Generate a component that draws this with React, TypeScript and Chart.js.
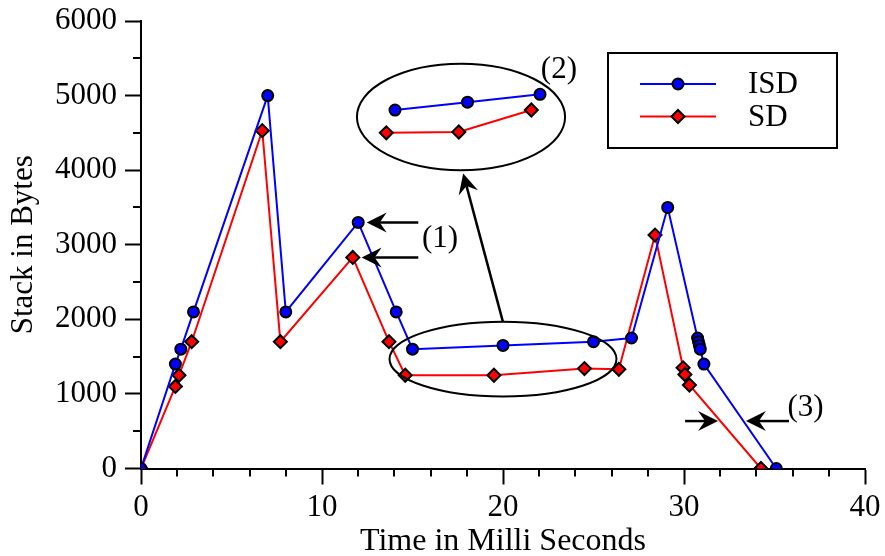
import React, { useEffect, useRef } from 'react';
import { Chart, registerables } from 'chart.js';

Chart.register(...registerables);

// ---- data ----
const isdTime = [0, 1.9, 2.2, 2.9, 7, 8, 12, 14.1, 15, 20, 25, 27.1, 29.1, 30.75, 30.8, 30.85, 30.9, 31.1, 35.1];
const isdBytes = [0, 1400, 1600, 2100, 5000, 2100, 3300, 2100, 1600, 1650, 1700, 1750, 3500, 1750, 1700, 1650, 1600, 1400, 0];
const sdTime = [0, 1.9, 2.1, 2.8, 6.7, 7.7, 11.7, 13.7, 14.6, 19.5, 24.5, 26.4, 28.4, 29.95, 30.05, 30.3, 34.25];
const sdBytes = [0, 1100, 1250, 1700, 4530, 1700, 2830, 1700, 1250, 1250, 1340, 1330, 3130, 1350, 1260, 1120, 0];

// magnified inset (2)
const insetIsdTime = [15, 20, 25];
const insetIsdBytes = [1600, 1650, 1700];
const insetSdTime = [14.4, 19.4, 24.4];
const insetSdBytes = [1455, 1460, 1600];

const xMajorTicks = [0, 10, 20, 30, 40];
const yMajorTicks = [0, 1000, 2000, 3000, 4000, 5000, 6000];
const xMinorTicks = [2, 4, 6, 8, 12, 14, 16, 18, 22, 24, 26, 28, 32, 34, 36, 38];
const yMinorTicks = [500, 1500, 2500, 3500, 4500, 5500];

const seriesNames = ['ISD', 'SD'];
const xTitle = 'Time in Milli Seconds';
const yTitle = 'Stack in Bytes';

// annotations in data units
const ellipseCx = [20.0, 17.68];
const ellipseCy = [1467, 4714];
const ellipseRx = [6.27, 5.75];
const ellipseRy = [502, 714];

const arrowFromX = [15.32, 15.32, 20.0, 30.06, 35.8];
const arrowFromY = [3300, 2830, 1963, 636, 636];
const arrowToX = [12.47, 12.19, 17.8, 31.88, 33.42];
const arrowToY = [3300, 2830, 3955, 636, 636];

const labelText = ['(1)', '(2)', '(3)'];
const labelX = [16.52, 23.09, 36.71];
const labelY = [3075, 5340, 817];

const FONT = '"Liberation Serif", "Times New Roman", serif';
const FS = 31;

function drawArrowHead(ctx: CanvasRenderingContext2D, x: number, y: number, ang: number) {
  const L = 20, W = 10, N = 13;
  ctx.save();
  ctx.translate(x, y);
  ctx.rotate(ang);
  ctx.beginPath();
  ctx.moveTo(0, 0);
  ctx.lineTo(-L, -W);
  ctx.lineTo(-N, 0);
  ctx.lineTo(-L, W);
  ctx.closePath();
  ctx.fillStyle = '#000';
  ctx.fill();
  ctx.restore();
}

const annotPlugin = {
  id: 'annot',
  afterDraw(chart: any) {
    const ctx: CanvasRenderingContext2D = chart.ctx;
    const xs = chart.scales.x;
    const ys = chart.scales.y;
    const ca = chart.chartArea;
    ctx.save();
    ctx.strokeStyle = '#000';
    ctx.lineWidth = 2;
    // minor ticks
    ctx.beginPath();
    xMinorTicks.forEach((v) => {
      const px = Math.round(xs.getPixelForValue(v));
      ctx.moveTo(px, ca.bottom);
      ctx.lineTo(px, ca.bottom + 8);
    });
    yMinorTicks.forEach((v) => {
      const py = Math.round(ys.getPixelForValue(v));
      ctx.moveTo(ca.left, py);
      ctx.lineTo(ca.left - 8, py);
    });
    ctx.stroke();

    // ellipses
    ellipseCx.forEach((cx, i) => {
      const px = xs.getPixelForValue(cx);
      const py = ys.getPixelForValue(ellipseCy[i]);
      const rx = Math.abs(xs.getPixelForValue(cx + ellipseRx[i]) - px);
      const ry = Math.abs(ys.getPixelForValue(ellipseCy[i] + ellipseRy[i]) - py);
      ctx.beginPath();
      ctx.ellipse(px, py, rx, ry, 0, 0, Math.PI * 2);
      ctx.stroke();
    });

    // arrows
    ctx.lineWidth = 2.5;
    arrowFromX.forEach((fx, i) => {
      const x1 = xs.getPixelForValue(fx);
      const y1 = ys.getPixelForValue(arrowFromY[i]);
      const x2 = xs.getPixelForValue(arrowToX[i]);
      const y2 = ys.getPixelForValue(arrowToY[i]);
      const ang = Math.atan2(y2 - y1, x2 - x1);
      ctx.beginPath();
      ctx.moveTo(x1, y1);
      ctx.lineTo(x2 - Math.cos(ang) * 13, y2 - Math.sin(ang) * 13);
      ctx.stroke();
      drawArrowHead(ctx, x2, y2, ang);
    });

    // labels
    ctx.fillStyle = '#000';
    ctx.font = `${FS}px ${FONT}`;
    ctx.textAlign = 'center';
    ctx.textBaseline = 'middle';
    labelText.forEach((t, i) => {
      ctx.fillText(t, xs.getPixelForValue(labelX[i]), ys.getPixelForValue(labelY[i]));
    });

    // legend
    const lx = ca.right - 257;
    const ly = ca.top + 32;
    ctx.lineWidth = 2;
    ctx.strokeRect(lx, ly, 229, 95);
    const rows = [ly + 31, ly + 63.5];
    chart.data.datasets.slice(0, 2).forEach((ds: any, i: number) => {
      const y = rows[i];
      ctx.strokeStyle = ds.borderColor;
      ctx.lineWidth = 2;
      ctx.beginPath();
      ctx.moveTo(lx + 32, y);
      ctx.lineTo(lx + 108, y);
      ctx.stroke();
      const mx = lx + 70;
      ctx.fillStyle = ds.pointBackgroundColor;
      ctx.strokeStyle = '#000';
      ctx.beginPath();
      if (ds.pointStyle === 'circle') {
        ctx.arc(mx, y, ds.pointRadius, 0, Math.PI * 2);
      } else {
        const r = ds.pointRadius;
        ctx.moveTo(mx - r, y);
        ctx.lineTo(mx, y - r);
        ctx.lineTo(mx + r, y);
        ctx.lineTo(mx, y + r);
        ctx.closePath();
      }
      ctx.fill();
      ctx.stroke();
      ctx.fillStyle = '#000';
      ctx.textAlign = 'left';
      ctx.fillText(seriesNames[i], lx + 140, y + 1);
    });
    ctx.restore();
  },
};

const pts = (xs: number[], ys: number[]) => xs.map((x, i) => ({ x, y: ys[i] }));

export default function App() {
  const ref = useRef<HTMLCanvasElement | null>(null);
  useEffect(() => {
    document.body.style.margin = '0';
    const canvas = ref.current!;
    const font = { family: FONT, size: FS };
    const isdStyle = {
      borderColor: '#0000ff',
      pointBackgroundColor: '#0000ff',
      pointBorderColor: '#000000',
      pointBorderWidth: 2,
      pointStyle: 'circle',
      pointRadius: 5.5,
      borderWidth: 2,
    };
    const sdStyle = {
      borderColor: '#ff0000',
      pointBackgroundColor: '#ff0000',
      pointBorderColor: '#000000',
      pointBorderWidth: 2,
      pointStyle: 'rectRot',
      pointRadius: 6.5,
      borderWidth: 2,
    };
    const chart = new Chart(canvas, {
      type: 'line',
      data: {
        datasets: [
          { label: seriesNames[0], data: pts(isdTime, isdBytes), ...isdStyle, clip: 0, tension: 0 } as any,
          { label: seriesNames[1], data: pts(sdTime, sdBytes), ...sdStyle, clip: 0, tension: 0 } as any,
          { label: 'inset ISD', data: pts(insetIsdTime, insetIsdBytes), ...isdStyle, xAxisID: 'xi', yAxisID: 'yi' } as any,
          { label: 'inset SD', data: pts(insetSdTime, insetSdBytes), ...sdStyle, xAxisID: 'xi', yAxisID: 'yi' } as any,
        ],
      },
      options: {
        animation: false,
        responsive: false,
        devicePixelRatio: 1,
        layout: { padding: { top: 21, right: 20, left: 0, bottom: 0 } },
        plugins: { legend: { display: false }, tooltip: { enabled: false } },
        scales: {
          x: {
            type: 'linear',
            position: 'bottom',
            min: 0,
            max: 40,
            afterBuildTicks: (s: any) => { s.ticks = xMajorTicks.map((v) => ({ value: v })); },
            afterFit: (s: any) => { s.height = 87.5; s.paddingLeft = 0; s.paddingRight = 0; },
            ticks: { font, color: '#000', padding: 5, maxRotation: 0, autoSkip: false, callback: (v: any) => String(v) },
            grid: { drawOnChartArea: false, drawTicks: true, tickLength: 16, tickColor: '#000', tickWidth: 2 },
            border: { display: true, color: '#000', width: 2 },
            title: { display: true, text: xTitle, font: { family: FONT, size: 32, lineHeight: 0.9 }, color: '#000', padding: { top: 0, bottom: 0 } },
          },
          y: {
            type: 'linear',
            position: 'left',
            min: 0,
            max: 6000,
            afterBuildTicks: (s: any) => { s.ticks = yMajorTicks.map((v) => ({ value: v })); },
            afterFit: (s: any) => { s.width = 141; s.paddingTop = 0; s.paddingBottom = 0; },
            ticks: { font, color: '#000', padding: 8, autoSkip: false, callback: (v: any) => String(v) },
            grid: { drawOnChartArea: false, drawTicks: true, tickLength: 16, tickColor: '#000', tickWidth: 2 },
            border: { display: true, color: '#000', width: 2 },
            title: { display: true, text: yTitle, font, color: '#000', padding: { top: 5, bottom: 0 } },
          },
          xi: { type: 'linear', axis: 'x', display: false, min: -2.517, max: 47.41 },
          yi: { type: 'linear', axis: 'y', display: false, min: -683, max: 2167 },
        },
      } as any,
      plugins: [annotPlugin],
    });
    return () => chart.destroy();
  }, []);
  return (
    <div style={{ position: 'absolute', left: 0, top: 0, width: 885, height: 556, background: '#fff' }}>
      <canvas ref={ref} width={885} height={556} />
    </div>
  );
}
